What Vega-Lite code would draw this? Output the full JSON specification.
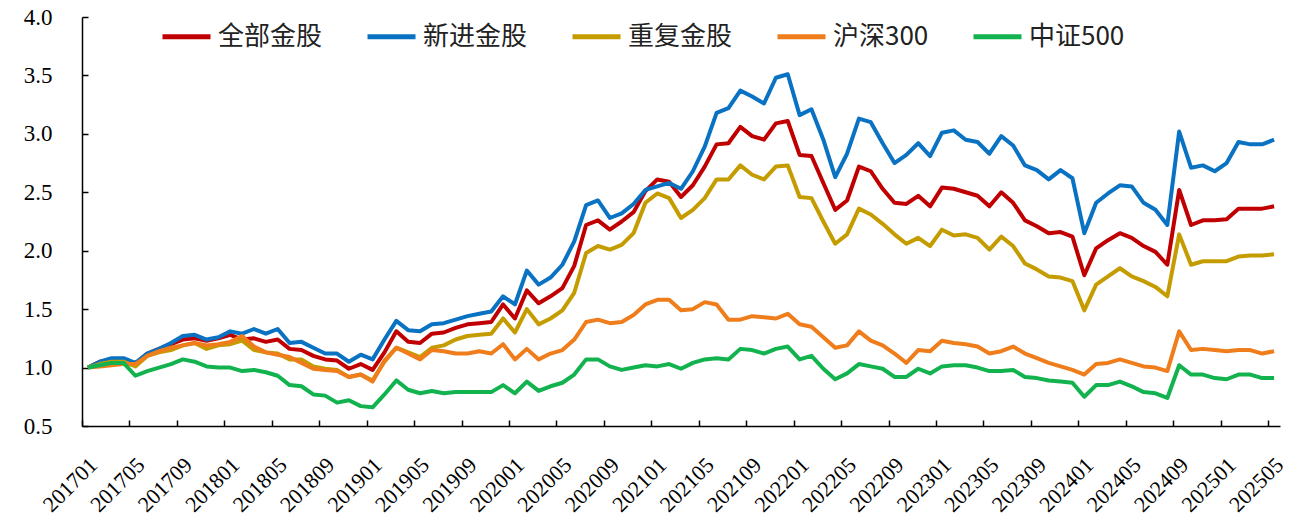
{
"$schema": "https://vega.github.io/schema/vega-lite/v6.json",
"width": 1198,
"height": 409,
"autosize": {"type": "none"},
"padding": {"left": 82, "top": 17, "right": 10, "bottom": 99},
"background": "white",
"config": {"view": {"stroke": null}},
"data": {"values": [
{"month":"201701","series":"全部金股","value":1.00},{"month":"201702","series":"全部金股","value":1.05},{"month":"201703","series":"全部金股","value":1.07},{"month":"201704","series":"全部金股","value":1.07},{"month":"201705","series":"全部金股","value":1.03},{"month":"201706","series":"全部金股","value":1.12},{"month":"201707","series":"全部金股","value":1.16},{"month":"201708","series":"全部金股","value":1.20},{"month":"201709","series":"全部金股","value":1.24},{"month":"201710","series":"全部金股","value":1.25},{"month":"201711","series":"全部金股","value":1.23},{"month":"201712","series":"全部金股","value":1.25},
{"month":"201801","series":"全部金股","value":1.28},{"month":"201802","series":"全部金股","value":1.24},{"month":"201803","series":"全部金股","value":1.25},{"month":"201804","series":"全部金股","value":1.22},{"month":"201805","series":"全部金股","value":1.24},{"month":"201806","series":"全部金股","value":1.16},{"month":"201807","series":"全部金股","value":1.15},{"month":"201808","series":"全部金股","value":1.10},{"month":"201809","series":"全部金股","value":1.07},{"month":"201810","series":"全部金股","value":1.06},{"month":"201811","series":"全部金股","value":0.99},{"month":"201812","series":"全部金股","value":1.03},
{"month":"201901","series":"全部金股","value":0.98},{"month":"201902","series":"全部金股","value":1.13},{"month":"201903","series":"全部金股","value":1.31},{"month":"201904","series":"全部金股","value":1.22},{"month":"201905","series":"全部金股","value":1.21},{"month":"201906","series":"全部金股","value":1.29},{"month":"201907","series":"全部金股","value":1.30},{"month":"201908","series":"全部金股","value":1.34},{"month":"201909","series":"全部金股","value":1.37},{"month":"201910","series":"全部金股","value":1.38},{"month":"201911","series":"全部金股","value":1.39},{"month":"201912","series":"全部金股","value":1.54},
{"month":"202001","series":"全部金股","value":1.42},{"month":"202002","series":"全部金股","value":1.66},{"month":"202003","series":"全部金股","value":1.55},{"month":"202004","series":"全部金股","value":1.61},{"month":"202005","series":"全部金股","value":1.68},{"month":"202006","series":"全部金股","value":1.87},{"month":"202007","series":"全部金股","value":2.22},{"month":"202008","series":"全部金股","value":2.26},{"month":"202009","series":"全部金股","value":2.18},{"month":"202010","series":"全部金股","value":2.25},{"month":"202011","series":"全部金股","value":2.33},{"month":"202012","series":"全部金股","value":2.51},
{"month":"202101","series":"全部金股","value":2.61},{"month":"202102","series":"全部金股","value":2.59},{"month":"202103","series":"全部金股","value":2.46},{"month":"202104","series":"全部金股","value":2.56},{"month":"202105","series":"全部金股","value":2.72},{"month":"202106","series":"全部金股","value":2.91},{"month":"202107","series":"全部金股","value":2.92},{"month":"202108","series":"全部金股","value":3.06},{"month":"202109","series":"全部金股","value":2.98},{"month":"202110","series":"全部金股","value":2.95},{"month":"202111","series":"全部金股","value":3.09},{"month":"202112","series":"全部金股","value":3.11},
{"month":"202201","series":"全部金股","value":2.82},{"month":"202202","series":"全部金股","value":2.81},{"month":"202203","series":"全部金股","value":2.58},{"month":"202204","series":"全部金股","value":2.35},{"month":"202205","series":"全部金股","value":2.43},{"month":"202206","series":"全部金股","value":2.72},{"month":"202207","series":"全部金股","value":2.68},{"month":"202208","series":"全部金股","value":2.53},{"month":"202209","series":"全部金股","value":2.41},{"month":"202210","series":"全部金股","value":2.40},{"month":"202211","series":"全部金股","value":2.47},{"month":"202212","series":"全部金股","value":2.38},
{"month":"202301","series":"全部金股","value":2.54},{"month":"202302","series":"全部金股","value":2.53},{"month":"202303","series":"全部金股","value":2.50},{"month":"202304","series":"全部金股","value":2.47},{"month":"202305","series":"全部金股","value":2.38},{"month":"202306","series":"全部金股","value":2.50},{"month":"202307","series":"全部金股","value":2.41},{"month":"202308","series":"全部金股","value":2.26},{"month":"202309","series":"全部金股","value":2.21},{"month":"202310","series":"全部金股","value":2.15},{"month":"202311","series":"全部金股","value":2.16},{"month":"202312","series":"全部金股","value":2.12},
{"month":"202401","series":"全部金股","value":1.79},{"month":"202402","series":"全部金股","value":2.02},{"month":"202403","series":"全部金股","value":2.09},{"month":"202404","series":"全部金股","value":2.15},{"month":"202405","series":"全部金股","value":2.11},{"month":"202406","series":"全部金股","value":2.04},{"month":"202407","series":"全部金股","value":1.99},{"month":"202408","series":"全部金股","value":1.88},{"month":"202409","series":"全部金股","value":2.52},{"month":"202410","series":"全部金股","value":2.22},{"month":"202411","series":"全部金股","value":2.26},{"month":"202412","series":"全部金股","value":2.26},
{"month":"202501","series":"全部金股","value":2.27},{"month":"202502","series":"全部金股","value":2.36},{"month":"202503","series":"全部金股","value":2.36},{"month":"202504","series":"全部金股","value":2.36},{"month":"202505","series":"全部金股","value":2.38},

{"month":"201701","series":"新进金股","value":1.00},{"month":"201702","series":"新进金股","value":1.05},{"month":"201703","series":"新进金股","value":1.08},{"month":"201704","series":"新进金股","value":1.08},{"month":"201705","series":"新进金股","value":1.04},{"month":"201706","series":"新进金股","value":1.12},{"month":"201707","series":"新进金股","value":1.16},{"month":"201708","series":"新进金股","value":1.21},{"month":"201709","series":"新进金股","value":1.27},{"month":"201710","series":"新进金股","value":1.28},{"month":"201711","series":"新进金股","value":1.24},{"month":"201712","series":"新进金股","value":1.26},
{"month":"201801","series":"新进金股","value":1.31},{"month":"201802","series":"新进金股","value":1.29},{"month":"201803","series":"新进金股","value":1.33},{"month":"201804","series":"新进金股","value":1.29},{"month":"201805","series":"新进金股","value":1.33},{"month":"201806","series":"新进金股","value":1.21},{"month":"201807","series":"新进金股","value":1.22},{"month":"201808","series":"新进金股","value":1.17},{"month":"201809","series":"新进金股","value":1.12},{"month":"201810","series":"新进金股","value":1.12},{"month":"201811","series":"新进金股","value":1.05},{"month":"201812","series":"新进金股","value":1.11},
{"month":"201901","series":"新进金股","value":1.07},{"month":"201902","series":"新进金股","value":1.24},{"month":"201903","series":"新进金股","value":1.40},{"month":"201904","series":"新进金股","value":1.32},{"month":"201905","series":"新进金股","value":1.31},{"month":"201906","series":"新进金股","value":1.37},{"month":"201907","series":"新进金股","value":1.38},{"month":"201908","series":"新进金股","value":1.41},{"month":"201909","series":"新进金股","value":1.44},{"month":"201910","series":"新进金股","value":1.46},{"month":"201911","series":"新进金股","value":1.48},{"month":"201912","series":"新进金股","value":1.61},
{"month":"202001","series":"新进金股","value":1.54},{"month":"202002","series":"新进金股","value":1.83},{"month":"202003","series":"新进金股","value":1.71},{"month":"202004","series":"新进金股","value":1.77},{"month":"202005","series":"新进金股","value":1.88},{"month":"202006","series":"新进金股","value":2.08},{"month":"202007","series":"新进金股","value":2.39},{"month":"202008","series":"新进金股","value":2.43},{"month":"202009","series":"新进金股","value":2.28},{"month":"202010","series":"新进金股","value":2.32},{"month":"202011","series":"新进金股","value":2.40},{"month":"202012","series":"新进金股","value":2.52},
{"month":"202101","series":"新进金股","value":2.55},{"month":"202102","series":"新进金股","value":2.58},{"month":"202103","series":"新进金股","value":2.53},{"month":"202104","series":"新进金股","value":2.68},{"month":"202105","series":"新进金股","value":2.89},{"month":"202106","series":"新进金股","value":3.18},{"month":"202107","series":"新进金股","value":3.22},{"month":"202108","series":"新进金股","value":3.37},{"month":"202109","series":"新进金股","value":3.32},{"month":"202110","series":"新进金股","value":3.26},{"month":"202111","series":"新进金股","value":3.48},{"month":"202112","series":"新进金股","value":3.51},
{"month":"202201","series":"新进金股","value":3.16},{"month":"202202","series":"新进金股","value":3.21},{"month":"202203","series":"新进金股","value":2.95},{"month":"202204","series":"新进金股","value":2.63},{"month":"202205","series":"新进金股","value":2.83},{"month":"202206","series":"新进金股","value":3.13},{"month":"202207","series":"新进金股","value":3.10},{"month":"202208","series":"新进金股","value":2.92},{"month":"202209","series":"新进金股","value":2.75},{"month":"202210","series":"新进金股","value":2.82},{"month":"202211","series":"新进金股","value":2.92},{"month":"202212","series":"新进金股","value":2.81},
{"month":"202301","series":"新进金股","value":3.01},{"month":"202302","series":"新进金股","value":3.03},{"month":"202303","series":"新进金股","value":2.95},{"month":"202304","series":"新进金股","value":2.93},{"month":"202305","series":"新进金股","value":2.83},{"month":"202306","series":"新进金股","value":2.98},{"month":"202307","series":"新进金股","value":2.90},{"month":"202308","series":"新进金股","value":2.73},{"month":"202309","series":"新进金股","value":2.69},{"month":"202310","series":"新进金股","value":2.61},{"month":"202311","series":"新进金股","value":2.69},{"month":"202312","series":"新进金股","value":2.62},
{"month":"202401","series":"新进金股","value":2.15},{"month":"202402","series":"新进金股","value":2.41},{"month":"202403","series":"新进金股","value":2.49},{"month":"202404","series":"新进金股","value":2.56},{"month":"202405","series":"新进金股","value":2.55},{"month":"202406","series":"新进金股","value":2.41},{"month":"202407","series":"新进金股","value":2.35},{"month":"202408","series":"新进金股","value":2.22},{"month":"202409","series":"新进金股","value":3.02},{"month":"202410","series":"新进金股","value":2.71},{"month":"202411","series":"新进金股","value":2.73},{"month":"202412","series":"新进金股","value":2.68},
{"month":"202501","series":"新进金股","value":2.75},{"month":"202502","series":"新进金股","value":2.93},{"month":"202503","series":"新进金股","value":2.91},{"month":"202504","series":"新进金股","value":2.91},{"month":"202505","series":"新进金股","value":2.95},

{"month":"201701","series":"重复金股","value":1.00},{"month":"201702","series":"重复金股","value":1.03},{"month":"201703","series":"重复金股","value":1.05},{"month":"201704","series":"重复金股","value":1.05},{"month":"201705","series":"重复金股","value":1.01},{"month":"201706","series":"重复金股","value":1.10},{"month":"201707","series":"重复金股","value":1.13},{"month":"201708","series":"重复金股","value":1.15},{"month":"201709","series":"重复金股","value":1.19},{"month":"201710","series":"重复金股","value":1.21},{"month":"201711","series":"重复金股","value":1.16},{"month":"201712","series":"重复金股","value":1.19},
{"month":"201801","series":"重复金股","value":1.20},{"month":"201802","series":"重复金股","value":1.23},{"month":"201803","series":"重复金股","value":1.15},{"month":"201804","series":"重复金股","value":1.13},{"month":"201805","series":"重复金股","value":1.12},{"month":"201806","series":"重复金股","value":1.07},{"month":"201807","series":"重复金股","value":1.07},{"month":"201808","series":"重复金股","value":1.01},{"month":"201809","series":"重复金股","value":0.99},{"month":"201810","series":"重复金股","value":0.98},{"month":"201811","series":"重复金股","value":0.92},{"month":"201812","series":"重复金股","value":0.94},
{"month":"201901","series":"重复金股","value":0.89},{"month":"201902","series":"重复金股","value":1.05},{"month":"201903","series":"重复金股","value":1.17},{"month":"201904","series":"重复金股","value":1.13},{"month":"201905","series":"重复金股","value":1.09},{"month":"201906","series":"重复金股","value":1.17},{"month":"201907","series":"重复金股","value":1.19},{"month":"201908","series":"重复金股","value":1.24},{"month":"201909","series":"重复金股","value":1.27},{"month":"201910","series":"重复金股","value":1.28},{"month":"201911","series":"重复金股","value":1.29},{"month":"201912","series":"重复金股","value":1.42},
{"month":"202001","series":"重复金股","value":1.30},{"month":"202002","series":"重复金股","value":1.50},{"month":"202003","series":"重复金股","value":1.37},{"month":"202004","series":"重复金股","value":1.42},{"month":"202005","series":"重复金股","value":1.49},{"month":"202006","series":"重复金股","value":1.64},{"month":"202007","series":"重复金股","value":1.98},{"month":"202008","series":"重复金股","value":2.04},{"month":"202009","series":"重复金股","value":2.01},{"month":"202010","series":"重复金股","value":2.05},{"month":"202011","series":"重复金股","value":2.15},{"month":"202012","series":"重复金股","value":2.41},
{"month":"202101","series":"重复金股","value":2.49},{"month":"202102","series":"重复金股","value":2.45},{"month":"202103","series":"重复金股","value":2.28},{"month":"202104","series":"重复金股","value":2.35},{"month":"202105","series":"重复金股","value":2.45},{"month":"202106","series":"重复金股","value":2.61},{"month":"202107","series":"重复金股","value":2.61},{"month":"202108","series":"重复金股","value":2.73},{"month":"202109","series":"重复金股","value":2.65},{"month":"202110","series":"重复金股","value":2.61},{"month":"202111","series":"重复金股","value":2.72},{"month":"202112","series":"重复金股","value":2.73},
{"month":"202201","series":"重复金股","value":2.46},{"month":"202202","series":"重复金股","value":2.45},{"month":"202203","series":"重复金股","value":2.25},{"month":"202204","series":"重复金股","value":2.06},{"month":"202205","series":"重复金股","value":2.14},{"month":"202206","series":"重复金股","value":2.36},{"month":"202207","series":"重复金股","value":2.31},{"month":"202208","series":"重复金股","value":2.23},{"month":"202209","series":"重复金股","value":2.14},{"month":"202210","series":"重复金股","value":2.06},{"month":"202211","series":"重复金股","value":2.11},{"month":"202212","series":"重复金股","value":2.04},
{"month":"202301","series":"重复金股","value":2.18},{"month":"202302","series":"重复金股","value":2.13},{"month":"202303","series":"重复金股","value":2.14},{"month":"202304","series":"重复金股","value":2.11},{"month":"202305","series":"重复金股","value":2.01},{"month":"202306","series":"重复金股","value":2.12},{"month":"202307","series":"重复金股","value":2.04},{"month":"202308","series":"重复金股","value":1.89},{"month":"202309","series":"重复金股","value":1.84},{"month":"202310","series":"重复金股","value":1.78},{"month":"202311","series":"重复金股","value":1.77},{"month":"202312","series":"重复金股","value":1.74},
{"month":"202401","series":"重复金股","value":1.49},{"month":"202402","series":"重复金股","value":1.71},{"month":"202403","series":"重复金股","value":1.78},{"month":"202404","series":"重复金股","value":1.85},{"month":"202405","series":"重复金股","value":1.78},{"month":"202406","series":"重复金股","value":1.74},{"month":"202407","series":"重复金股","value":1.69},{"month":"202408","series":"重复金股","value":1.61},{"month":"202409","series":"重复金股","value":2.14},{"month":"202410","series":"重复金股","value":1.88},{"month":"202411","series":"重复金股","value":1.91},{"month":"202412","series":"重复金股","value":1.91},
{"month":"202501","series":"重复金股","value":1.91},{"month":"202502","series":"重复金股","value":1.95},{"month":"202503","series":"重复金股","value":1.96},{"month":"202504","series":"重复金股","value":1.96},{"month":"202505","series":"重复金股","value":1.97},

{"month":"201701","series":"沪深300","value":1.00},{"month":"201702","series":"沪深300","value":1.01},{"month":"201703","series":"沪深300","value":1.02},{"month":"201704","series":"沪深300","value":1.03},{"month":"201705","series":"沪深300","value":1.03},{"month":"201706","series":"沪深300","value":1.10},{"month":"201707","series":"沪深300","value":1.14},{"month":"201708","series":"沪深300","value":1.17},{"month":"201709","series":"沪深300","value":1.19},{"month":"201710","series":"沪深300","value":1.21},{"month":"201711","series":"沪深300","value":1.19},{"month":"201712","series":"沪深300","value":1.20},
{"month":"201801","series":"沪深300","value":1.22},{"month":"201802","series":"沪深300","value":1.27},{"month":"201803","series":"沪深300","value":1.18},{"month":"201804","series":"沪深300","value":1.13},{"month":"201805","series":"沪深300","value":1.11},{"month":"201806","series":"沪深300","value":1.09},{"month":"201807","series":"沪深300","value":1.04},{"month":"201808","series":"沪深300","value":0.99},{"month":"201809","series":"沪深300","value":0.98},{"month":"201810","series":"沪深300","value":0.97},{"month":"201811","series":"沪深300","value":0.92},{"month":"201812","series":"沪深300","value":0.94},
{"month":"201901","series":"沪深300","value":0.88},{"month":"201902","series":"沪深300","value":1.06},{"month":"201903","series":"沪深300","value":1.17},{"month":"201904","series":"沪深300","value":1.12},{"month":"201905","series":"沪深300","value":1.07},{"month":"201906","series":"沪深300","value":1.15},{"month":"201907","series":"沪深300","value":1.14},{"month":"201908","series":"沪深300","value":1.12},{"month":"201909","series":"沪深300","value":1.12},{"month":"201910","series":"沪深300","value":1.14},{"month":"201911","series":"沪深300","value":1.12},{"month":"201912","series":"沪深300","value":1.20},
{"month":"202001","series":"沪深300","value":1.07},{"month":"202002","series":"沪深300","value":1.16},{"month":"202003","series":"沪深300","value":1.07},{"month":"202004","series":"沪深300","value":1.12},{"month":"202005","series":"沪深300","value":1.15},{"month":"202006","series":"沪深300","value":1.24},{"month":"202007","series":"沪深300","value":1.39},{"month":"202008","series":"沪深300","value":1.41},{"month":"202009","series":"沪深300","value":1.38},{"month":"202010","series":"沪深300","value":1.39},{"month":"202011","series":"沪深300","value":1.45},{"month":"202012","series":"沪深300","value":1.54},
{"month":"202101","series":"沪深300","value":1.58},{"month":"202102","series":"沪深300","value":1.58},{"month":"202103","series":"沪深300","value":1.49},{"month":"202104","series":"沪深300","value":1.50},{"month":"202105","series":"沪深300","value":1.56},{"month":"202106","series":"沪深300","value":1.54},{"month":"202107","series":"沪深300","value":1.41},{"month":"202108","series":"沪深300","value":1.41},{"month":"202109","series":"沪深300","value":1.44},{"month":"202110","series":"沪深300","value":1.43},{"month":"202111","series":"沪深300","value":1.42},{"month":"202112","series":"沪深300","value":1.46},
{"month":"202201","series":"沪深300","value":1.37},{"month":"202202","series":"沪深300","value":1.35},{"month":"202203","series":"沪深300","value":1.26},{"month":"202204","series":"沪深300","value":1.17},{"month":"202205","series":"沪深300","value":1.19},{"month":"202206","series":"沪深300","value":1.31},{"month":"202207","series":"沪深300","value":1.23},{"month":"202208","series":"沪深300","value":1.19},{"month":"202209","series":"沪深300","value":1.12},{"month":"202210","series":"沪深300","value":1.04},{"month":"202211","series":"沪深300","value":1.15},{"month":"202212","series":"沪深300","value":1.14},
{"month":"202301","series":"沪深300","value":1.23},{"month":"202302","series":"沪深300","value":1.21},{"month":"202303","series":"沪深300","value":1.20},{"month":"202304","series":"沪深300","value":1.18},{"month":"202305","series":"沪深300","value":1.12},{"month":"202306","series":"沪深300","value":1.14},{"month":"202307","series":"沪深300","value":1.18},{"month":"202308","series":"沪深300","value":1.12},{"month":"202309","series":"沪深300","value":1.08},{"month":"202310","series":"沪深300","value":1.04},{"month":"202311","series":"沪深300","value":1.01},{"month":"202312","series":"沪深300","value":0.98},
{"month":"202401","series":"沪深300","value":0.94},{"month":"202402","series":"沪深300","value":1.03},{"month":"202403","series":"沪深300","value":1.04},{"month":"202404","series":"沪深300","value":1.07},{"month":"202405","series":"沪深300","value":1.04},{"month":"202406","series":"沪深300","value":1.01},{"month":"202407","series":"沪深300","value":1.00},{"month":"202408","series":"沪深300","value":0.97},{"month":"202409","series":"沪深300","value":1.31},{"month":"202410","series":"沪深300","value":1.15},{"month":"202411","series":"沪深300","value":1.16},{"month":"202412","series":"沪深300","value":1.15},
{"month":"202501","series":"沪深300","value":1.14},{"month":"202502","series":"沪深300","value":1.15},{"month":"202503","series":"沪深300","value":1.15},{"month":"202504","series":"沪深300","value":1.12},{"month":"202505","series":"沪深300","value":1.14},

{"month":"201701","series":"中证500","value":1.00},{"month":"201702","series":"中证500","value":1.02},{"month":"201703","series":"中证500","value":1.04},{"month":"201704","series":"中证500","value":1.04},{"month":"201705","series":"中证500","value":0.93},{"month":"201706","series":"中证500","value":0.97},{"month":"201707","series":"中证500","value":1.00},{"month":"201708","series":"中证500","value":1.03},{"month":"201709","series":"中证500","value":1.07},{"month":"201710","series":"中证500","value":1.05},{"month":"201711","series":"中证500","value":1.01},{"month":"201712","series":"中证500","value":1.00},
{"month":"201801","series":"中证500","value":1.00},{"month":"201802","series":"中证500","value":0.97},{"month":"201803","series":"中证500","value":0.98},{"month":"201804","series":"中证500","value":0.96},{"month":"201805","series":"中证500","value":0.93},{"month":"201806","series":"中证500","value":0.85},{"month":"201807","series":"中证500","value":0.84},{"month":"201808","series":"中证500","value":0.77},{"month":"201809","series":"中证500","value":0.76},{"month":"201810","series":"中证500","value":0.70},{"month":"201811","series":"中证500","value":0.72},{"month":"201812","series":"中证500","value":0.67},
{"month":"201901","series":"中证500","value":0.66},{"month":"201902","series":"中证500","value":0.77},{"month":"201903","series":"中证500","value":0.89},{"month":"201904","series":"中证500","value":0.81},{"month":"201905","series":"中证500","value":0.78},{"month":"201906","series":"中证500","value":0.80},{"month":"201907","series":"中证500","value":0.78},{"month":"201908","series":"中证500","value":0.79},{"month":"201909","series":"中证500","value":0.79},{"month":"201910","series":"中证500","value":0.79},{"month":"201911","series":"中证500","value":0.79},{"month":"201912","series":"中证500","value":0.85},
{"month":"202001","series":"中证500","value":0.78},{"month":"202002","series":"中证500","value":0.88},{"month":"202003","series":"中证500","value":0.80},{"month":"202004","series":"中证500","value":0.84},{"month":"202005","series":"中证500","value":0.87},{"month":"202006","series":"中证500","value":0.94},{"month":"202007","series":"中证500","value":1.07},{"month":"202008","series":"中证500","value":1.07},{"month":"202009","series":"中证500","value":1.01},{"month":"202010","series":"中证500","value":0.98},{"month":"202011","series":"中证500","value":1.00},{"month":"202012","series":"中证500","value":1.02},
{"month":"202101","series":"中证500","value":1.01},{"month":"202102","series":"中证500","value":1.03},{"month":"202103","series":"中证500","value":0.99},{"month":"202104","series":"中证500","value":1.04},{"month":"202105","series":"中证500","value":1.07},{"month":"202106","series":"中证500","value":1.08},{"month":"202107","series":"中证500","value":1.07},{"month":"202108","series":"中证500","value":1.16},{"month":"202109","series":"中证500","value":1.15},{"month":"202110","series":"中证500","value":1.12},{"month":"202111","series":"中证500","value":1.16},{"month":"202112","series":"中证500","value":1.18},
{"month":"202201","series":"中证500","value":1.07},{"month":"202202","series":"中证500","value":1.10},{"month":"202203","series":"中证500","value":0.99},{"month":"202204","series":"中证500","value":0.90},{"month":"202205","series":"中证500","value":0.95},{"month":"202206","series":"中证500","value":1.03},{"month":"202207","series":"中证500","value":1.01},{"month":"202208","series":"中证500","value":0.99},{"month":"202209","series":"中证500","value":0.92},{"month":"202210","series":"中证500","value":0.92},{"month":"202211","series":"中证500","value":0.99},{"month":"202212","series":"中证500","value":0.95},
{"month":"202301","series":"中证500","value":1.01},{"month":"202302","series":"中证500","value":1.02},{"month":"202303","series":"中证500","value":1.02},{"month":"202304","series":"中证500","value":1.00},{"month":"202305","series":"中证500","value":0.97},{"month":"202306","series":"中证500","value":0.97},{"month":"202307","series":"中证500","value":0.98},{"month":"202308","series":"中证500","value":0.92},{"month":"202309","series":"中证500","value":0.91},{"month":"202310","series":"中证500","value":0.89},{"month":"202311","series":"中证500","value":0.88},{"month":"202312","series":"中证500","value":0.87},
{"month":"202401","series":"中证500","value":0.75},{"month":"202402","series":"中证500","value":0.85},{"month":"202403","series":"中证500","value":0.85},{"month":"202404","series":"中证500","value":0.88},{"month":"202405","series":"中证500","value":0.84},{"month":"202406","series":"中证500","value":0.79},{"month":"202407","series":"中证500","value":0.78},{"month":"202408","series":"中证500","value":0.74},{"month":"202409","series":"中证500","value":1.02},{"month":"202410","series":"中证500","value":0.94},{"month":"202411","series":"中证500","value":0.94},{"month":"202412","series":"中证500","value":0.91},
{"month":"202501","series":"中证500","value":0.90},{"month":"202502","series":"中证500","value":0.94},{"month":"202503","series":"中证500","value":0.94},{"month":"202504","series":"中证500","value":0.91},{"month":"202505","series":"中证500","value":0.91}
]},
"mark": {"type": "line", "strokeWidth": 4, "strokeJoin": "round"},
"encoding": {
  "x": {"field": "month", "type": "ordinal",
    "scale": {"type": "point", "padding": 0.5},
    "axis": {"title": null,
      "values": ["201701","201705","201709","201801","201805","201809","201901","201905","201909","202001","202005","202009","202101","202105","202109","202201","202205","202209","202301","202305","202309","202401","202405","202409","202501","202505"],
      "labelAngle": -45, "labelAlign": "right", "labelBaseline": "top",
      "labelFont": "Liberation Serif", "labelFontSize": 22, "labelColor": "#000",
      "labelOverlap": false, "labelPadding": 34,
      "tickOffset": -5.93, "labelOffset": 4,
      "domainColor": "#000", "domainWidth": 1.5,
      "tickColor": "#000", "tickWidth": 1.5, "tickSize": -6,
      "grid": false}},
  "y": {"field": "value", "type": "quantitative",
    "scale": {"domain": [0.5, 4.0], "nice": false, "zero": false},
    "axis": {"title": null, "values": [0.5,1.0,1.5,2.0,2.5,3.0,3.5,4.0], "format": ".1f",
      "labelFont": "Liberation Serif", "labelFontSize": 23, "labelColor": "#000",
      "labelPadding": 36,
      "domainColor": "#000", "domainWidth": 1.5,
      "tickColor": "#000", "tickWidth": 1.5, "tickSize": -6,
      "grid": false}},
  "color": {"field": "series", "type": "nominal",
    "scale": {"domain": ["全部金股","新进金股","重复金股","沪深300","中证500"],
              "range": ["#C00000","#0A72C2","#C59C00","#EF7D1C","#12B34F"]},
    "legend": {"title": null, "orient": "none", "legendX": 78, "legendY": -7,
      "direction": "horizontal", "symbolType": "stroke", "symbolSize": 2304,
      "symbolStrokeWidth": 5, "labelFont": "Noto Sans CJK SC", "labelFontSize": 26,
      "labelColor": "#222", "labelOffset": 5, "columnPadding": 34, "labelLimit": 300}}
}
}
